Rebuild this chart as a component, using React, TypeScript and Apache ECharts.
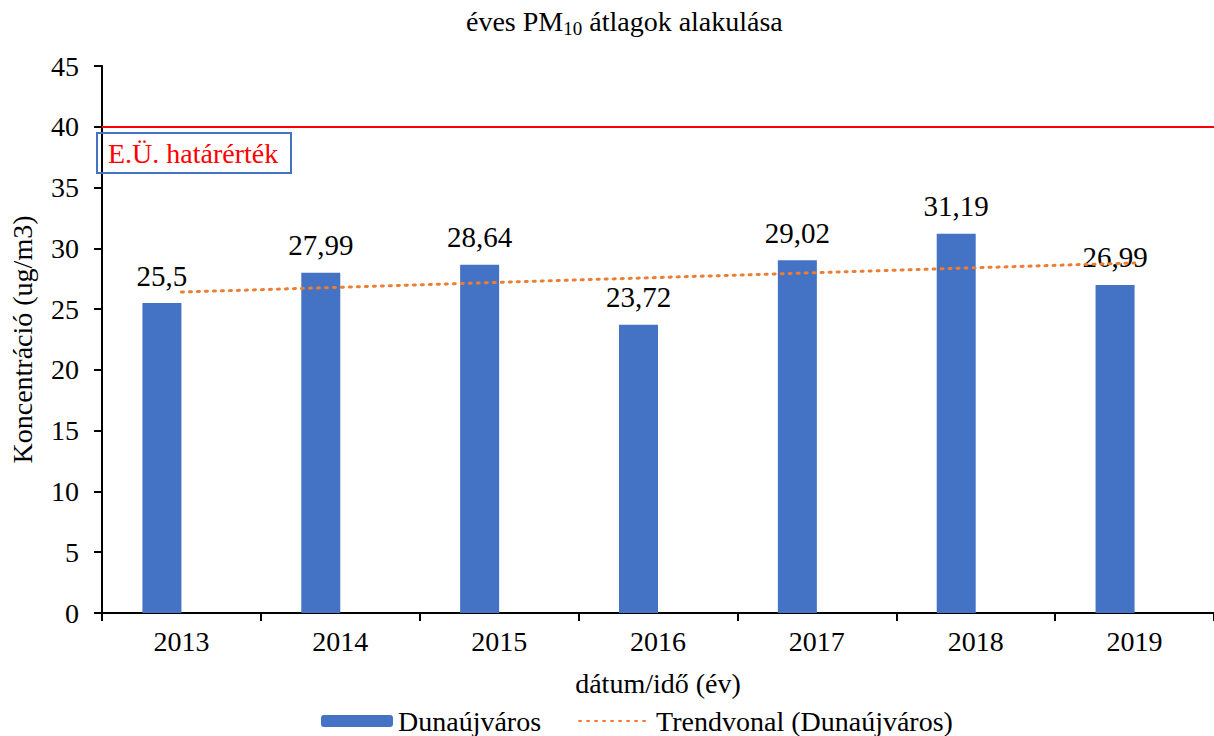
import React, { useEffect, useRef } from "react";
import * as echarts from "echarts";

const years = ["2013", "2014", "2015", "2016", "2017", "2018", "2019"];
const pm10 = [25.5, 27.99, 28.64, 23.72, 29.02, 31.19, 26.99];
const trend = [26.4, null, null, null, null, null, 28.8];
const placeholder = [null, null, null, null, null, null, null];
const limitValue = 40;
const yTicks = { min: 0, max: 45, interval: 5 };

const FONT = "Liberation Serif";

export default function App() {
  const ref = useRef<HTMLDivElement>(null);
  useEffect(() => {
    if (!ref.current) return;
    const chart = echarts.init(ref.current, null, { renderer: "svg" });
    chart.setOption({
      animation: false,
      textStyle: { fontFamily: FONT, fontWeight: "normal" },
      title: {
        text: "{a|éves PM}{sub|10}{a| átlagok alakulása}",
        left: 461,
        top: -1,
        textStyle: {
          fontFamily: FONT,
          fontWeight: "normal",
          fontSize: 28,
          color: "#000",
          rich: {
            a: { fontFamily: FONT, fontWeight: "normal", fontSize: 28, color: "#000", lineHeight: 34 },
            sub: { fontFamily: FONT, fontWeight: "normal", fontSize: 19, color: "#000", lineHeight: 16, verticalAlign: "bottom" },
          },
        },
      },
      grid: { left: 101, right: -8, top: 66, bottom: 123 },
      legend: {
        left: 316,
        top: 702,
        itemWidth: 72,
        itemHeight: 12,
        itemGap: 37,
        textStyle: { fontFamily: FONT, fontWeight: "normal", fontSize: 28, color: "#000" },
        data: [
          { name: "Dunaújváros" },
          { name: "Trendvonal (Dunaújváros)", itemStyle: { opacity: 0 } },
        ],
      },
      xAxis: {
        type: "category",
        data: years,
        boundaryGap: true,
        name: "dátum/idő (év)",
        nameLocation: "middle",
        nameGap: 56,
        nameTextStyle: { fontFamily: FONT, fontWeight: "normal", fontSize: 28, color: "#000" },
        axisLine: { lineStyle: { color: "#000", width: 2 } },
        axisTick: { show: true, length: 8, lineStyle: { color: "#000", width: 2 } },
        axisLabel: { fontFamily: FONT, fontSize: 28, color: "#000", margin: 14 },
      },
      yAxis: {
        type: "value",
        min: yTicks.min,
        max: yTicks.max,
        interval: yTicks.interval,
        name: "Koncentráció (ug/m3)",
        nameLocation: "middle",
        nameGap: 66,
        nameTextStyle: { fontFamily: FONT, fontWeight: "normal", fontSize: 28, color: "#000" },
        axisLine: { show: true, lineStyle: { color: "#000", width: 2 } },
        axisTick: { show: true, length: 8, lineStyle: { color: "#000", width: 2 } },
        axisLabel: { fontFamily: FONT, fontSize: 28, color: "#000", margin: 23 },
        splitLine: { show: false },
      },
      series: [
        {
          name: "Dunaújváros",
          type: "bar",
          data: pm10,
          barWidth: 39,
          barGap: "0%",
          itemStyle: { color: "#4472C4" },
          label: {
            show: true,
            position: "top",
            distance: 13,
            fontFamily: FONT,
            fontWeight: "normal",
            fontSize: 29,
            color: "#000",
            formatter: (p: any) => String(p.value).replace(".", ","),
          },
          markLine: {
            silent: true,
            symbol: "none",
            label: { show: false },
            lineStyle: { color: "#FF0000", width: 2, type: "solid" },
            data: [{ yAxis: limitValue }],
          },
          z: 2,
        },
        {
          name: "_placeholder",
          type: "bar",
          data: placeholder,
          barWidth: 39,
          barGap: "0%",
        },
        {
          name: "Trendvonal (Dunaújváros)",
          type: "line",
          data: trend,
          connectNulls: true,
          symbol: "none",
          itemStyle: { color: "#ED7D31" },
          lineStyle: { color: "#ED7D31", width: 3, type: [2, 6], cap: "round" },
          z: 3,
        },
      ],
      graphic: [
        {
          type: "rect",
          shape: { x: 97, y: 133, width: 194, height: 40 },
          style: { fill: "none", stroke: "#4472C4", lineWidth: 2 },
          z: 10,
        },
        {
          type: "text",
          x: 108,
          y: 153,
          style: {
            text: "E.Ü. határérték",
            fill: "#FF0000",
            fontFamily: FONT,
            fontSize: 28,
            fontWeight: "normal",
            verticalAlign: "middle",
          },
          z: 10,
        },
      ],
    });
    return () => chart.dispose();
  }, []);
  return (
    <div
      ref={ref}
      style={{ position: "fixed", left: 0, top: 0, width: 1214, height: 736, background: "#fff" }}
    />
  );
}
